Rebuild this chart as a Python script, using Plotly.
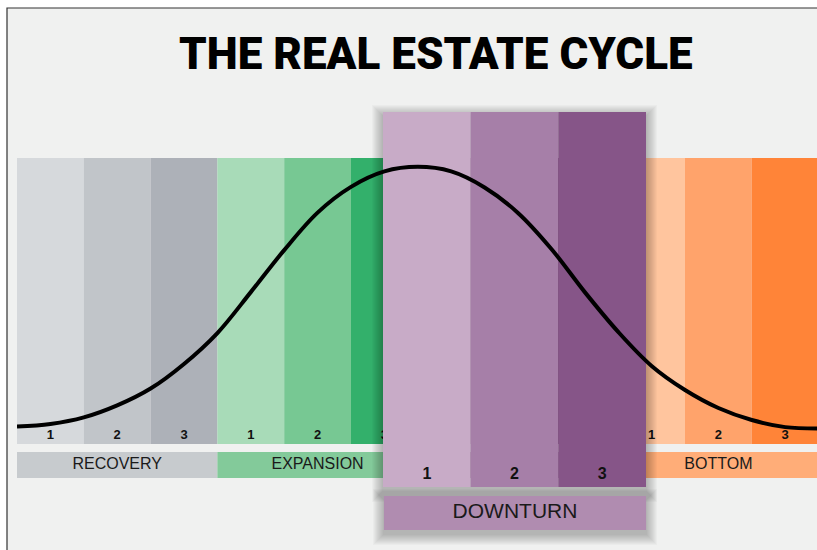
import plotly.graph_objects as go

W, H = 817, 550

# ---------------- data ----------------
phases = ["RECOVERY", "EXPANSION", "DOWNTURN", "BOTTOM"]
stage_labels = ["1", "2", "3"]
stage_colors = {
    "RECOVERY": ["#d6d9dc", "#c1c5c9", "#adb1b8"],
    "EXPANSION": ["#a8dbb8", "#77c893", "#33b06b"],
    "DOWNTURN": ["#c8abc7", "#a67fa8", "#865588"],
    "BOTTOM": ["#ffc59e", "#ffa36b", "#ff8438"],
}
phase_colors = {
    "RECOVERY": "#c7cbce",
    "EXPANSION": "#83ca9a",
    "DOWNTURN": "#b08cb0",
    "BOTTOM": "#ffad78",
}
focus_phase = "DOWNTURN"
title_text = "THE REAL ESTATE CYCLE"

# cycle curve: position along the 12 stages and market level (share of band height)
curve_pos = [-0.5, 0.0, 0.5, 1.0, 1.5, 2.0, 2.5, 3.0, 3.5, 4.0, 4.5, 5.0, 5.5,
             6.0, 6.5, 7.0, 7.5, 8.0, 8.5, 9.0, 9.5, 10.0, 10.5, 11.0, 11.5]
curve_level = [0.061, 0.070, 0.093, 0.135, 0.194, 0.280, 0.388, 0.531, 0.678,
               0.809, 0.899, 0.953, 0.969, 0.953, 0.897, 0.808, 0.682, 0.531,
               0.392, 0.273, 0.189, 0.126, 0.084, 0.059, 0.054]

# ---------------- layout helpers ----------------
def fx(p):
    return p / W


def fy(p):
    return 1 - p / H


FONT = "Liberation Sans, Arial, Helvetica, sans-serif"
BG = "#f0f1f0"

COL = 66.8          # px per stage column in the main band
BAND_L, BAND_T, BAND_B = 17, 158, 444
PHASE_T, PHASE_B = 452, 478
PAN_L, PAN_R, PAN_T, PAN_B = 383, 646, 112, 487
DT_T, DT_B = 496, 530
PAD = 18            # room for shadows

n_stages = len(phases) * len(stage_labels)
stage_x = list(range(n_stages))
stage_col = [c for p in phases for c in stage_colors[p]]
main_range = [-0.5, -0.5 + (W - BAND_L) / COL]

# stage numbers of the main band (the focus phase is shown magnified instead)
num_x, num_t = [], []
for i, p in enumerate(phases):
    if p == focus_phase:
        continue
    for j, s in enumerate(stage_labels):
        num_x.append(3 * i + j)
        num_t.append(s)

fig = go.Figure()

# main band of stages (subplot 1)
fig.add_trace(go.Bar(x=stage_x, y=[1] * n_stages, width=1, marker=dict(color=stage_col, line=dict(width=0)),
                     xaxis="x", yaxis="y", hoverinfo="skip", showlegend=False))
fig.add_trace(go.Scatter(x=num_x, y=[0.030] * len(num_x), text=num_t, mode="text",
                         textfont=dict(family=FONT, size=13, color="#111111", weight="bold"),
                         xaxis="x", yaxis="y", hoverinfo="skip", showlegend=False))

# phase label strip (subplot 2)
phase_x = [1 + 3 * i for i in range(len(phases))]
fig.add_trace(go.Bar(x=phase_x, y=[1] * len(phases), width=3,
                     marker=dict(color=[phase_colors[p] for p in phases], line=dict(width=0)),
                     xaxis="x2", yaxis="y2", hoverinfo="skip", showlegend=False))
lab_x = [x for x, p in zip(phase_x, phases) if p != focus_phase]
lab_t = [p for p in phases if p != focus_phase]
fig.add_trace(go.Scatter(x=lab_x, y=[0.5] * len(lab_x), text=lab_t, mode="text",
                         textfont=dict(family=FONT, size=16, color="#1a1a1a"),
                         xaxis="x2", yaxis="y2", hoverinfo="skip", showlegend=False))

# magnified focus phase panel (subplot 3)
fig.add_trace(go.Bar(x=[0, 1, 2], y=[1, 1, 1], width=1,
                     marker=dict(color=stage_colors[focus_phase], line=dict(width=0)),
                     xaxis="x3", yaxis="y3", hoverinfo="skip", showlegend=False))
fig.add_trace(go.Scatter(x=[0, 1, 2], y=[0.032] * 3, text=stage_labels, mode="text",
                         textfont=dict(family=FONT, size=16, color="#111111", weight="bold"),
                         xaxis="x3", yaxis="y3", hoverinfo="skip", showlegend=False))

# focus phase label (subplot 4)
fig.add_trace(go.Bar(x=[0], y=[1], width=1, marker=dict(color=phase_colors[focus_phase], line=dict(width=0)),
                     xaxis="x4", yaxis="y4", hoverinfo="skip", showlegend=False))
fig.add_trace(go.Scatter(x=[0], y=[0.5], text=[focus_phase], mode="text",
                         textfont=dict(family=FONT, size=21, color="#1a1a1a"),
                         xaxis="x4", yaxis="y4", hoverinfo="skip", showlegend=False))

# cycle curve (subplot 5, same mapping as main band, drawn on top)
fig.add_trace(go.Scatter(x=curve_pos, y=curve_level, mode="lines",
                         line=dict(color="#000000", width=4, shape="spline", smoothing=1.0),
                         xaxis="x5", yaxis="y5", hoverinfo="skip", showlegend=False))

# ---------------- axes ----------------
def ax(**kw):
    d = dict(visible=False, fixedrange=True, showgrid=False, zeroline=False)
    d.update(kw)
    return d


pan_ux = (PAN_R - PAN_L) / 3.0
pan_uy = float(PAN_B - PAN_T)
dt_ux = float(PAN_R - PAN_L)
dt_uy = float(DT_B - DT_T)

layout_axes = dict(
    xaxis=ax(domain=[fx(BAND_L), 1], range=main_range, anchor="y"),
    yaxis=ax(domain=[fy(BAND_B), fy(BAND_T)], range=[0, 1], anchor="x"),
    xaxis2=ax(domain=[fx(BAND_L), 1], range=main_range, anchor="y2"),
    yaxis2=ax(domain=[fy(PHASE_B), fy(PHASE_T)], range=[0, 1], anchor="x2"),
    xaxis3=ax(domain=[fx(PAN_L - PAD), fx(PAN_R + PAD)],
              range=[-0.5 - PAD / pan_ux, 2.5 + PAD / pan_ux], anchor="y3"),
    yaxis3=ax(domain=[fy(PAN_B + PAD), fy(PAN_T - PAD)],
              range=[-PAD / pan_uy, 1 + PAD / pan_uy], anchor="x3"),
    xaxis4=ax(domain=[fx(PAN_L + 1 - PAD), fx(PAN_R + PAD)],
              range=[-0.5 - PAD / dt_ux, 0.5 + PAD / dt_ux], anchor="y4"),
    yaxis4=ax(domain=[fy(DT_B + PAD), fy(DT_T - PAD)],
              range=[-PAD / dt_uy, 1 + PAD / dt_uy], anchor="x4"),
    xaxis5=ax(domain=[fx(BAND_L), 1], range=main_range, anchor="y5"),
    yaxis5=ax(domain=[fy(BAND_B), fy(BAND_T)], range=[0, 1], anchor="x5"),
)

# ---------------- shapes: frame + soft shadows ----------------
shapes = [dict(type="rect", xref="paper", yref="paper", x0=fx(7), x1=1.05, y0=-0.05, y1=fy(8),
               fillcolor=BG, line=dict(color="#333333", width=1.2), layer="below")]


def shadow(xr, yr, x0, x1, y0, y1, ux, uy, n=11, off=4, alpha=0.022):
    out = []
    for k in range(1, n + 1):
        out.append(dict(type="rect", xref=xr, yref=yr,
                        x0=x0 - k / ux, x1=x1 + k / ux,
                        y0=y0 - (k + off) / uy, y1=y1 + (k - off) / uy,
                        fillcolor="rgba(0,0,0,%.3f)" % alpha, line=dict(width=0), layer="below"))
    return out


shapes += shadow("x3", "y3", -0.5, 2.5, 0, 1, pan_ux, pan_uy)
shapes += shadow("x4", "y4", -0.5, 0.5, 0, 1, dt_ux, dt_uy)

fig.update_layout(
    width=W, height=H,
    margin=dict(l=0, r=0, t=0, b=0),
    paper_bgcolor="#ffffff",
    plot_bgcolor="rgba(0,0,0,0)",
    showlegend=False,
    barmode="overlay",
    shapes=shapes,
    annotations=[dict(text=title_text, xref="paper", yref="paper",
                      x=fx(435.5), y=fy(54), xanchor="center", yanchor="middle", showarrow=False,
                      font=dict(family="Roboto, Liberation Sans, Arial, sans-serif", weight=900,
                                size=44, color="#000000"))],
    **layout_axes,
)

fig.write_html("out.html", config={"displayModeBar": False},
               post_script="document.body.style.margin='0';document.body.style.padding='0';")
